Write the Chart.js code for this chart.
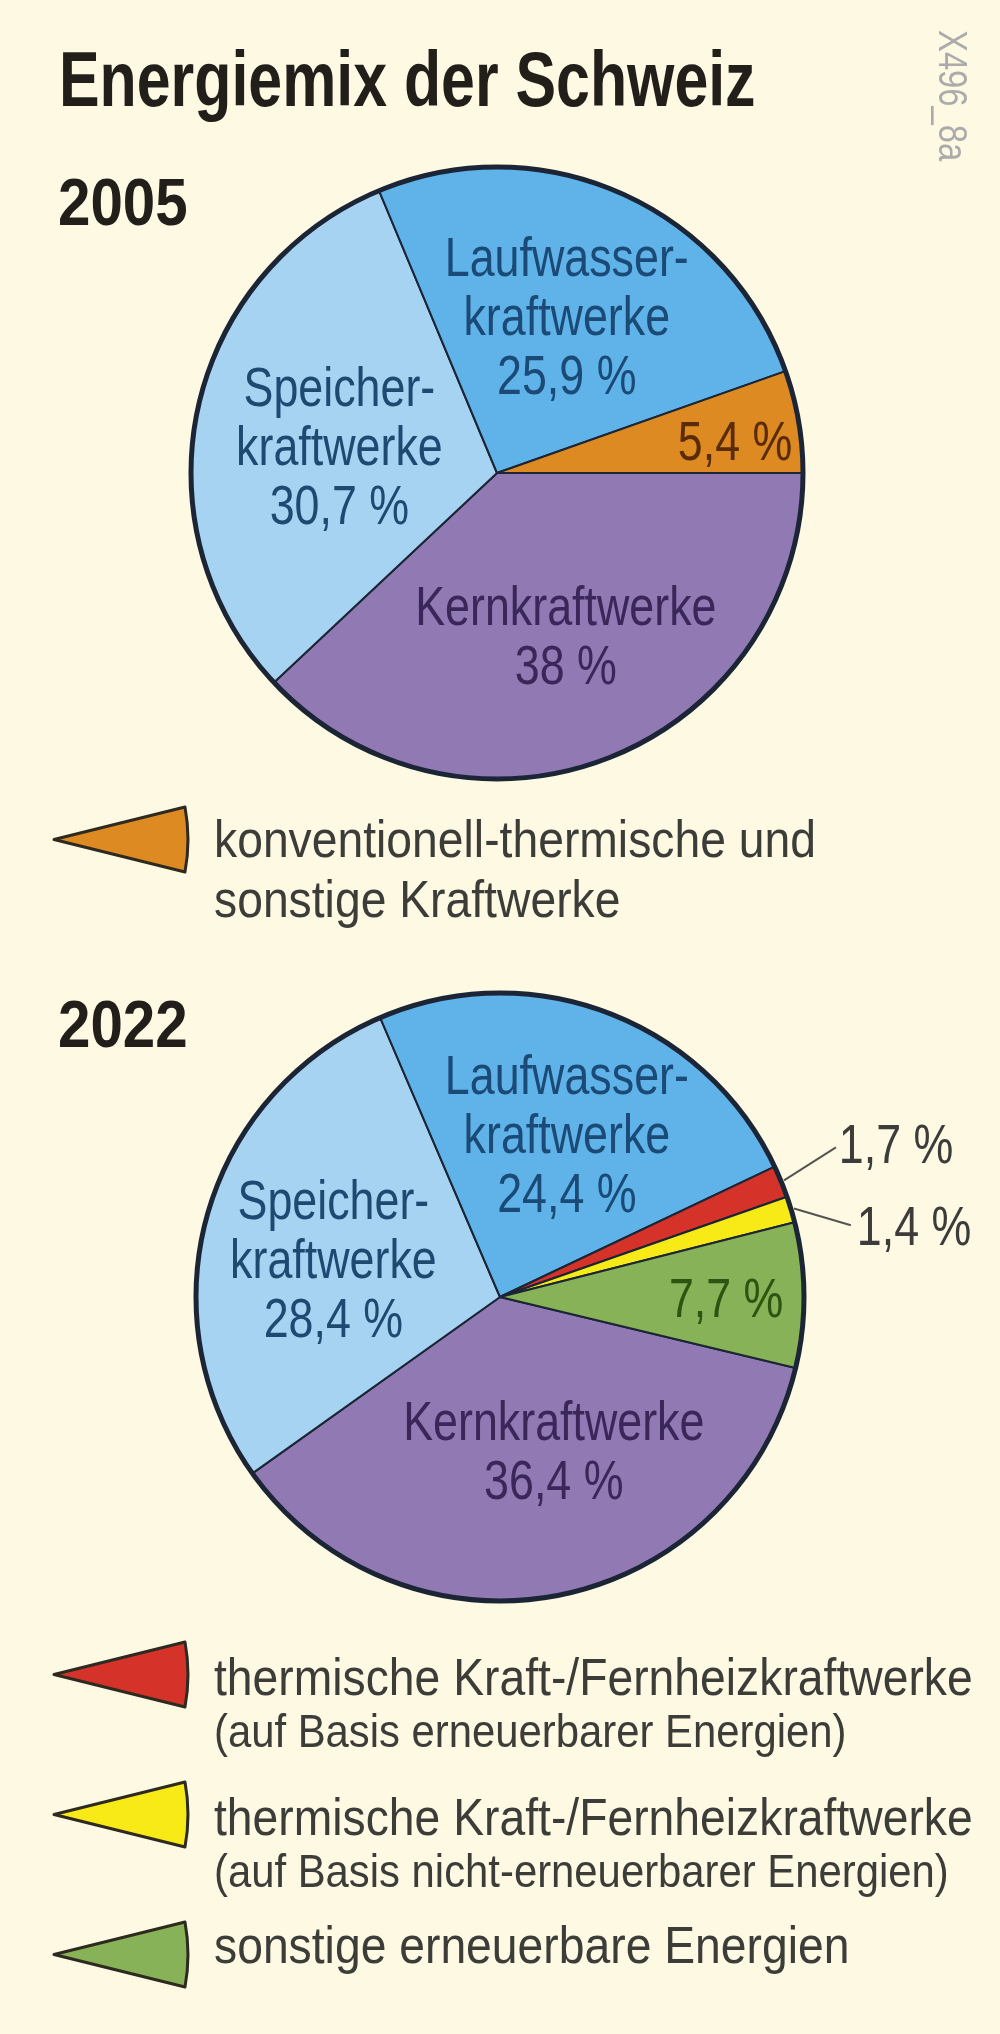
<!DOCTYPE html>
<html lang="de">
<head>
<meta charset="UTF-8" />
<title>Energiemix der Schweiz</title>
<script src="https://cdn.jsdelivr.net/npm/chart.js"></script>
<style>
  html, body { margin: 0; padding: 0; }
  body {
    width: 1000px;
    height: 2034px;
    background: #fdf9e3;
    position: relative;
    overflow: hidden;
    font-family: "Liberation Sans", Arial, sans-serif;
  }
  .txt {
    position: absolute;
    white-space: nowrap;
    line-height: 1;
    transform-origin: 0 0;
  }
  canvas { position: absolute; left: 0; }
  #pie2005 { top: 140px; }
  #pie2022 { top: 960px; }
  #symbols { position: absolute; left: 0; top: 0; }
</style>
</head>
<body>
<canvas id="pie2005" width="1000" height="680"></canvas>
<canvas id="pie2022" width="1000" height="680"></canvas>
<svg id="symbols" width="1000" height="2034"></svg>

<script>
// --- data (clockwise from the start angle) ---
const cats2005 = ['Kernkraftwerke', 'Speicherkraftwerke', 'Laufwasserkraftwerke',
  'konventionell-thermische und sonstige Kraftwerke'];
const values2005 = [38, 30.7, 25.9, 5.4];
const names2005 = [['Kernkraftwerke'], ['Speicher-', 'kraftwerke'], ['Laufwasser-', 'kraftwerke'], []];
const colors2005 = ['#9179b4', '#a7d3f2', '#5fb3e9', '#de8a22'];
const textColors2005 = ['#3a2658', '#1e4a72', '#1a4a75', '#5a2c06'];

const cats2022 = ['Kernkraftwerke', 'Speicherkraftwerke', 'Laufwasserkraftwerke',
  'thermische Kraft-/Fernheizkraftwerke (auf Basis erneuerbarer Energien)',
  'thermische Kraft-/Fernheizkraftwerke (auf Basis nicht-erneuerbarer Energien)',
  'sonstige erneuerbare Energien'];
const values2022 = [36.4, 28.4, 24.4, 1.7, 1.4, 7.7];
const names2022 = [['Kernkraftwerke'], ['Speicher-', 'kraftwerke'], ['Laufwasser-', 'kraftwerke'], [], [], []];
const colors2022 = ['#9179b4', '#a7d3f2', '#5fb3e9', '#d5332a', '#f7ea16', '#87b257'];
const textColors2022 = ['#3a2658', '#1e4a72', '#1a4a75', '#3c3c3a', '#3c3c3a', '#2d5512'];

// label anchors, in units of the pie radius from the centre
const place2005 = [[0.225, 0.529], [-0.515, -0.091], [0.228, -0.515], [0.778, -0.107]];
const place2022 = [[0.177, 0.502], [-0.548, -0.128], [0.22, -0.538], [1.303, -0.505], [1.362, -0.236], [0.744, 0]];
const leaders2022 = [null, null, null, [1.105, -0.492], [1.154, -0.236], null];

const fmt = v => v.toLocaleString('de-DE') + ' %';

const sliceLabels = {
  id: 'sliceLabels',
  afterDatasetsDraw(chart, args, opts) {
    const ctx = chart.ctx;
    const meta = chart.getDatasetMeta(0);
    const values = chart.data.datasets[0].data;
    const first = meta.data[0];
    const r = first.outerRadius;

    // heavier outer rim
    ctx.save();
    ctx.beginPath();
    ctx.arc(first.x, first.y, r, 0, Math.PI * 2);
    ctx.lineWidth = 5;
    ctx.strokeStyle = '#1b2535';
    ctx.stroke();
    ctx.restore();

    meta.data.forEach((arc, i) => {
      const lines = opts.names[i].concat([fmt(values[i])]);
      const cx = arc.x + opts.place[i][0] * r;
      const cy = arc.y + opts.place[i][1] * r;
      const lh = 59, cap = 40;
      ctx.save();
      ctx.fillStyle = opts.colors[i];
      ctx.font = '56px "Liberation Sans", Arial, sans-serif';
      ctx.textAlign = 'center';
      ctx.textBaseline = 'alphabetic';
      lines.forEach((ln, k) => {
        const y = cy + cap / 2 + (k - (lines.length - 1) / 2) * lh;
        ctx.save();
        ctx.translate(cx, y);
        ctx.scale(0.8, 1);
        ctx.fillText(ln, 0, 0);
        ctx.restore();
      });
      ctx.restore();

      const lead = opts.leaders && opts.leaders[i];
      if (lead) {
        const mid = (arc.startAngle + arc.endAngle) / 2;
        ctx.save();
        ctx.beginPath();
        ctx.moveTo(arc.x + Math.cos(mid) * (r + 3), arc.y + Math.sin(mid) * (r + 3));
        ctx.lineTo(arc.x + lead[0] * r, arc.y + lead[1] * r);
        ctx.lineWidth = 2;
        ctx.strokeStyle = '#555550';
        ctx.stroke();
        ctx.restore();
      }
    });
  }
};

function makePie(id, cats, values, colors, rotation, padding, labelOpts) {
  return new Chart(document.getElementById(id), {
    type: 'pie',
    data: {
      labels: cats,
      datasets: [{
        data: values,
        backgroundColor: colors,
        borderColor: '#1b2535',
        borderWidth: 2
      }]
    },
    options: {
      responsive: false,
      animation: false,
      events: [],
      rotation: rotation,
      layout: { padding: padding },
      plugins: {
        legend: { display: false },
        tooltip: { enabled: false },
        sliceLabels: labelOpts
      }
    },
    plugins: [sliceLabels]
  });
}

makePie('pie2005', cats2005, values2005, colors2005, 90,
  { left: 190, right: 196, top: 26, bottom: 40 },
  { names: names2005, place: place2005, colors: textColors2005 });

makePie('pie2022', cats2022, values2022, colors2022, 103.5,
  { left: 195, right: 195, top: 32, bottom: 38 },
  { names: names2022, place: place2022, colors: textColors2022, leaders: leaders2022 });

// --- text outside the charts ---
function addText(str, x, baseline, size, weight, color, sx) {
  const d = document.createElement('div');
  d.className = 'txt';
  d.textContent = str;
  d.style.left = x + 'px';
  d.style.top = (baseline - 0.8465 * size) + 'px';
  d.style.fontSize = size + 'px';
  d.style.fontWeight = weight;
  d.style.color = color;
  d.style.transform = 'scaleX(' + sx + ')';
  document.body.appendChild(d);
  return d;
}

addText('Energiemix der Schweiz', 59, 106, 78, 'bold', '#221e1a', 0.78);
addText('2005', 58, 225, 67, 'bold', '#221e1a', 0.87);
addText('2022', 58, 1047, 67, 'bold', '#221e1a', 0.87);

const mark = addText('X496_8a', 973, 30, 40, 'normal', '#ababab', 1);
mark.style.top = '30px';
mark.style.transform = 'rotate(90deg) scaleX(0.82)';

// legend: symbol colour, vertical centre of the symbol, text lines [text, baseline, size]
const legendColors = [colors2005[3], colors2022[3], colors2022[4], colors2022[5]];
const legendRows = [839.5, 1674.5, 1814.5, 1954.5];
const legendLines = [
  [['konventionell-thermische und', 857, 52], ['sonstige Kraftwerke', 917, 52]],
  [['thermische Kraft-/Fernheizkraftwerke', 1695, 52], ['(auf Basis erneuerbarer Energien)', 1747, 47]],
  [['thermische Kraft-/Fernheizkraftwerke', 1835, 52], ['(auf Basis nicht-erneuerbarer Energien)', 1887, 47]],
  [['sonstige erneuerbare Energien', 1963, 52]]
];

const svg = document.getElementById('symbols');
legendRows.forEach((cy, i) => {
  const p = document.createElementNS('http://www.w3.org/2000/svg', 'path');
  p.setAttribute('d', 'M54 ' + cy + ' L185 ' + (cy - 32.5) +
    ' Q191 ' + cy + ' 185 ' + (cy + 32.5) + ' Z');
  p.setAttribute('fill', legendColors[i]);
  p.setAttribute('stroke', '#2e2a20');
  p.setAttribute('stroke-width', '3');
  p.setAttribute('stroke-linejoin', 'round');
  svg.appendChild(p);
  legendLines[i].forEach(l => addText(l[0], 214, l[1], l[2], 'normal', '#3c3c39', 0.89));
});
</script>
</body>
</html>
